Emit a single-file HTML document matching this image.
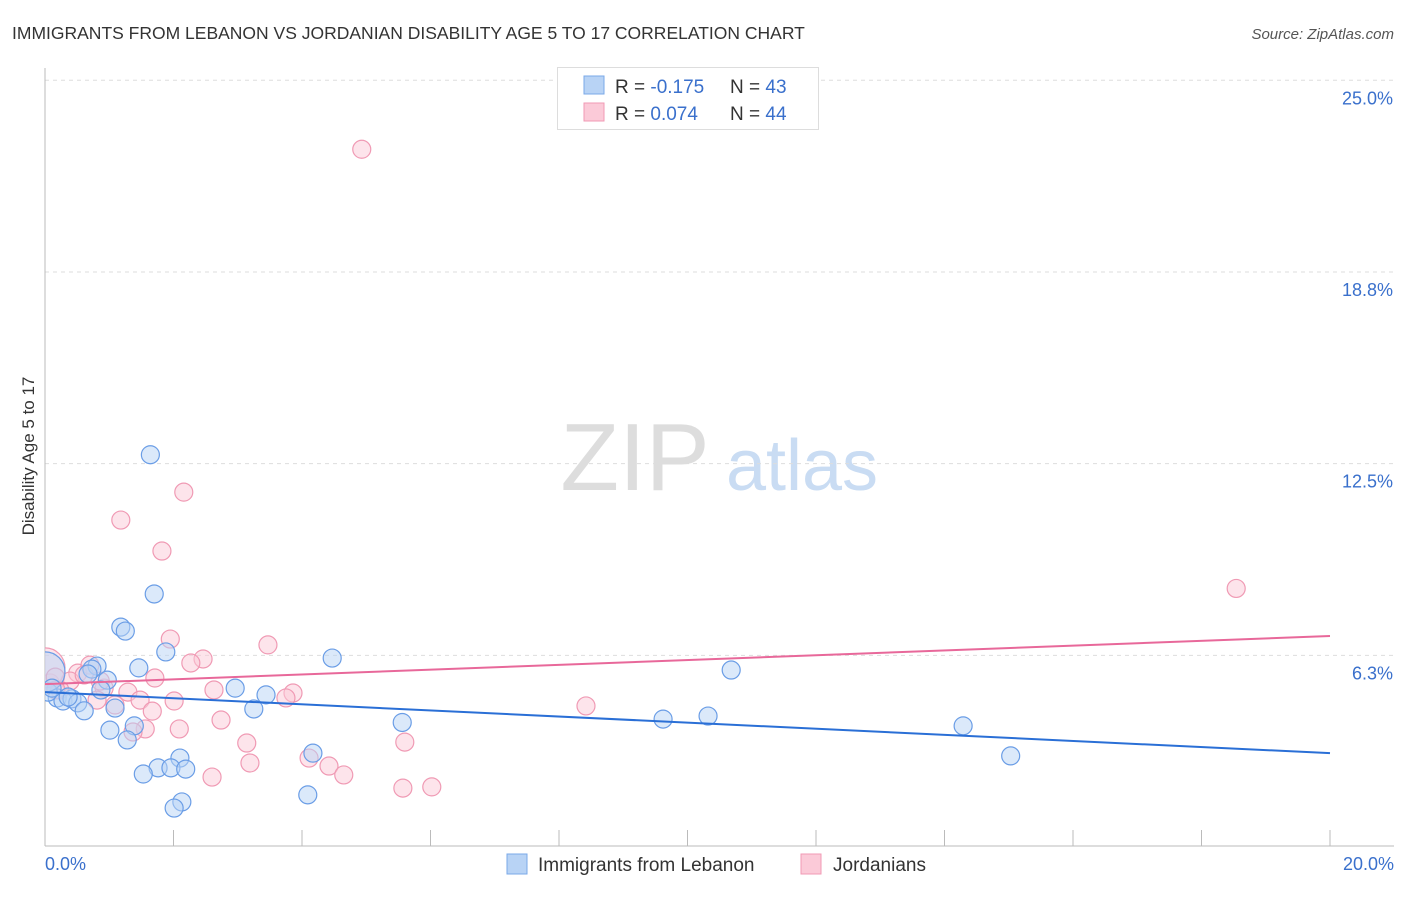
<!DOCTYPE html>
<html><head><meta charset="utf-8">
<style>
body{margin:0;background:#fff;font-family:"Liberation Sans",sans-serif;}
svg text{font-family:"Liberation Sans",sans-serif;}
</style></head>
<body>
<svg id="chart" width="1406" height="892" xmlns="http://www.w3.org/2000/svg">
<text x="12" y="39" font-size="17.5" fill="#333">IMMIGRANTS FROM LEBANON VS JORDANIAN DISABILITY AGE 5 TO 17 CORRELATION CHART</text>
<text x="1394" y="39" font-size="15" fill="#555" font-style="italic" text-anchor="end">Source: ZipAtlas.com</text>
<text x="34" y="456" font-size="17" fill="#333" text-anchor="middle" transform="rotate(-90 34 456)">Disability Age 5 to 17</text>
<g>
<text x="635" y="490" font-size="96" fill="#ddd" font-family="Liberation Serif" text-anchor="middle">ZIP</text>
<text x="802" y="490" font-size="72" fill="#c9dcf3" text-anchor="middle">atlas</text>
</g>
<g id="grid"></g>
<g id="axes"></g>
<defs><clipPath id="plotclip"><rect x="45" y="60" width="1300" height="786"/></clipPath></defs>
<g id="marks" clip-path="url(#plotclip)"></g>
<g>
<rect x="557.5" y="67.5" width="261" height="62" fill="#fff" stroke="#ddd"/>
<rect x="584" y="76" width="20" height="18" fill="#b8d3f5" stroke="#7aa8e8"/>
<rect x="584" y="103" width="20" height="18" fill="#fbcad8" stroke="#f09ab4"/>
<text x="615" y="93" font-size="19" fill="#333">R = <tspan fill="#3a70cc">-0.175</tspan></text>
<text x="730" y="93" font-size="19" fill="#333">N = <tspan fill="#3a70cc">43</tspan></text>
<text x="615" y="120" font-size="19" fill="#333">R = <tspan fill="#3a70cc"> 0.074</tspan></text>
<text x="730" y="120" font-size="19" fill="#333">N = <tspan fill="#3a70cc">44</tspan></text>
</g>
<g>
<rect x="507" y="854" width="20" height="20" fill="#b8d3f5" stroke="#7aa8e8"/>
<text x="538" y="871" font-size="19" fill="#333">Immigrants from Lebanon</text>
<rect x="801" y="854" width="20" height="20" fill="#fbcad8" stroke="#f09ab4"/>
<text x="833" y="871" font-size="19" fill="#333">Jordanians</text>
</g>
</svg>
<script>
const yTicks=[6.25,12.5,18.75,25];
const yTickLabels=["6.3%","12.5%","18.8%","25.0%"];
const xTickVals=[0,2,4,6,8,10,12,14,16,18,20];
const xEndLabels=["0.0%","20.0%"];
const blueX=[1.64,1.70,1.18,1.25,1.88,1.46,0.81,0.73,0.97,0.67,0.87,0.19,0.28,0.42,0.51,0.61,1.09,1.01,1.39,1.28,2.96,3.44,3.25,4.47,5.56,4.17,2.10,1.76,1.96,2.19,1.53,4.09,2.13,2.01,10.68,9.62,10.32,14.29,15.03,0.05,0.0,0.11,0.36];
const blueY=[12.79,8.25,7.17,7.04,6.36,5.84,5.90,5.80,5.44,5.64,5.12,4.86,4.76,4.83,4.70,4.44,4.53,3.81,3.95,3.49,5.18,4.96,4.50,6.16,4.06,3.06,2.90,2.58,2.58,2.54,2.38,1.70,1.47,1.27,5.77,4.17,4.27,3.95,2.97,5.05,5.71,5.18,4.89];
const blueR=[9,9,9,9,9,9,9,9,9,9,9,9,9,9,9,9,9,9,9,9,9,9,9,9,9,9,9,9,9,9,9,9,9,9,9,9,9,9,9,9,20,9,9];
const pinkX=[4.93,2.16,1.18,1.82,18.54,1.95,3.47,2.46,2.27,1.71,1.29,0.92,0.51,0.70,0.39,0.08,0.23,0.81,1.48,2.01,2.63,3.86,3.75,1.09,1.67,2.74,2.09,1.56,1.37,3.14,5.60,8.42,3.19,4.11,4.42,4.65,2.60,5.57,6.02,0.0,0.16,0.61,0.86,0.17];
const pinkY=[22.75,11.57,10.66,9.65,8.43,6.78,6.59,6.13,6.00,5.51,5.05,5.18,5.67,5.93,5.41,5.35,5.12,4.79,4.79,4.76,5.12,5.02,4.86,4.63,4.43,4.14,3.85,3.85,3.75,3.39,3.42,4.60,2.74,2.90,2.64,2.35,2.28,1.92,1.96,5.84,5.54,5.61,5.41,5.12];
const pinkR=[9,9,9,9,9,9,9,9,9,9,9,9,9,9,9,9,9,9,9,9,9,9,9,9,9,9,9,9,9,9,9,9,9,9,9,9,9,9,9,20,9,9,9,9];
const blueTrend=[5.05,3.06];
const pinkTrend=[5.31,6.88];
const NS="http://www.w3.org/2000/svg";
const X=v=>45+v*64.25;
const Y=v=>847-v*30.67;
function mk(tag,attrs,parent){const e=document.createElementNS(NS,tag);for(const k in attrs)e.setAttribute(k,attrs[k]);parent.appendChild(e);return e;}
const grid=document.getElementById('grid'),axes=document.getElementById('axes'),marks=document.getElementById('marks');
yTicks.forEach((t,i)=>{
 const l=mk('line',{x1:45,x2:1394,y1:Y(t),y2:Y(t),stroke:'#ddd','stroke-dasharray':'4,4'},grid);
 
 
 const tx=mk('text',{x:1393,y:Y(t)+24,'font-size':18,fill:'#3a70cc','text-anchor':'end'},axes);
 tx.textContent=yTickLabels[i];
 
 
});
const ya=mk('line',{x1:45,x2:45,y1:68,y2:846,stroke:'#bbb'},axes);


const xa=mk('line',{x1:45,x2:1394,y1:846,y2:846,stroke:'#bbb'},axes);


xTickVals.forEach(v=>{
 const t=mk('line',{x1:X(v),x2:X(v),y1:830,y2:846,stroke:'#bbb'},axes);
 
 
});
[[0,'start',45],[20,'end',1394]].forEach((d,i)=>{
 const tx=mk('text',{x:d[2],y:870,'font-size':18,fill:'#3a70cc','text-anchor':d[1]},axes);
 tx.textContent=xEndLabels[i];
 
 
});
function pts(xs,ys,rs,fill,stroke,name){
 xs.forEach((x,i)=>{
  const c=mk('circle',{cx:X(x),cy:Y(ys[i]),r:rs[i],fill:fill,'fill-opacity':0.5,stroke:stroke,'stroke-width':1.2},marks);
  
  
 });
}
pts(pinkX,pinkY,pinkR,'#fbcad8','#f09ab4','jordanian-point');
pts(blueX,blueY,blueR,'#b8d3f5','#6a9de6','lebanon-point');
const bl=mk('line',{x1:X(0),y1:Y(blueTrend[0]),x2:X(20),y2:Y(blueTrend[1]),stroke:'#2a6fd6','stroke-width':2},marks);


const pl=mk('line',{x1:X(0),y1:Y(pinkTrend[0]),x2:X(20),y2:Y(pinkTrend[1]),stroke:'#e8689a','stroke-width':2},marks);


</script>
</body></html>
